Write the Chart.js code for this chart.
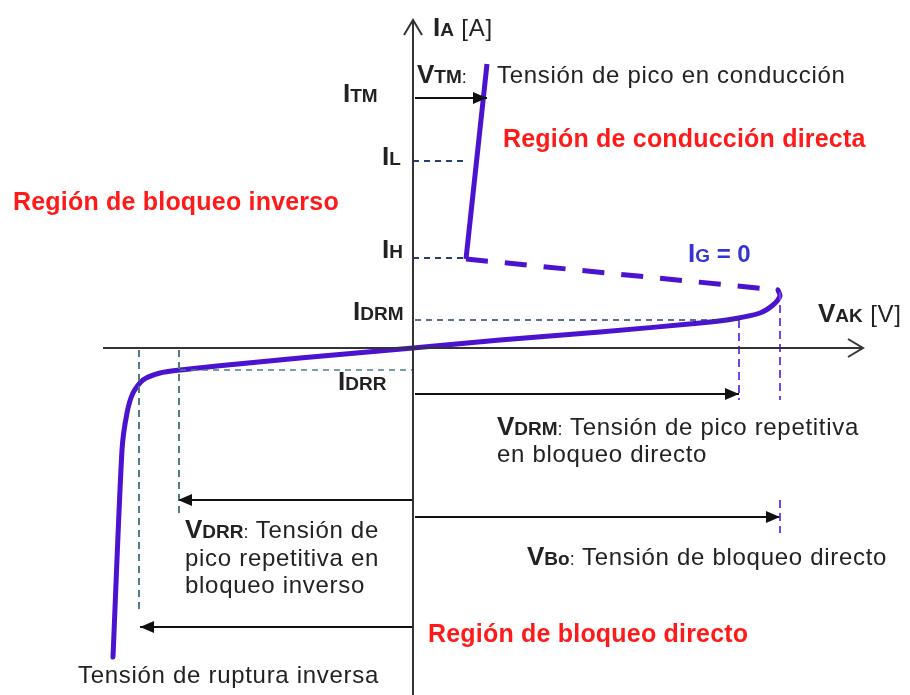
<!DOCTYPE html>
<html>
<head>
<meta charset="utf-8">
<script src="https://cdn.jsdelivr.net/npm/chart.js@4.4.1/dist/chart.umd.min.js"></script>
<style>
    html, body { margin: 0; padding: 0; background: #fff; }
    #wrap { width: 910px; height: 695px; position: relative; }
</style>
</head>
<body>
<div id="wrap"><canvas id="scrChart"></canvas></div>
<script>

// Curva característica del SCR (unidades relativas, origen en el cruce de ejes)
// Bloqueo inverso -> origen -> bloqueo directo hasta VBo
const curveV = [-300, -291, -286, -280, -270, -253, -233, -196, -113, 0, 87, 187, 287, 320, 347, 360, 367, 365];
const curveI = [-309, -102, -65, -45, -32, -25, -22, -18, -10, 0, 8, 16, 25, 29, 35, 43, 52, 58];

// Resistencia negativa (IG = 0), tramo a trazos
const negV = [53, 365];
const negI = [89, 58];

// Conducción directa
const onV = [53, 74];
const onI = [89, 284];

// Niveles de corriente y tensión marcados
const I_TM = 250, I_L = 187, I_H = 90, I_DRM = 28, I_DRR = -22;
const V_TM = 74, V_H = 52, V_DRM = 326, V_BO = 367, V_DRR = -234, V_BR = -274;

// Ejes
const axisXV = [-310, 450], axisXI = [0, 0];
const axisYV = [0, 0], axisYI = [-347, 328];

// Texto de las anotaciones: [estilo, texto]
const labels = [
    { v: 20, i: 312, c: "#222", runs: [["B", "I"], ["S", "A"], ["R", " [A]"]] },
    { v: 4, i: 265, c: "#222", runs: [["B", "V"], ["S", "TM"], ["C", ":"]] },
    { v: 84, i: 265, c: "#222", runs: [["R", "Tensión de pico en conducción"]] },
    { v: -70, i: 246, c: "#222", runs: [["B", "I"], ["S", "TM"]] },
    { v: 90, i: 201, c: "#ff1a1a", runs: [["H", "Región de conducción directa"]] },
    { v: -31, i: 183, c: "#222", runs: [["B", "I"], ["S", "L"]] },
    { v: -31, i: 90, c: "#222", runs: [["B", "I"], ["S", "H"]] },
    { v: -400, i: 138, c: "#ff1a1a", runs: [["H", "Región de bloqueo inverso"]] },
    { v: -60, i: 28, c: "#222", runs: [["B", "I"], ["S", "DRM"]] },
    { v: -75, i: -42, c: "#222", runs: [["B", "I"], ["S", "DRR"]] },
    { v: 275, i: 86, c: "#3434d4", runs: [["B", "I"], ["S", "G"], ["RB", " = 0"]] },
    { v: 405, i: 26, c: "#222", runs: [["B", "V"], ["S", "AK"], ["R", " [V]"]] },
    { v: 84, i: -87, c: "#222", runs: [["B", "V"], ["S", "DRM"], ["C", ":"], ["R", " Tensión de pico repetitiva"]] },
    { v: 84, i: -114, c: "#222", runs: [["R", "en bloqueo directo"]] },
    { v: -228, i: -190, c: "#222", runs: [["B", "V"], ["S", "DRR"], ["C", ":"], ["R", " Tensión de"]] },
    { v: -228, i: -218, c: "#222", runs: [["R", "pico repetitiva en"]] },
    { v: -228, i: -245, c: "#222", runs: [["R", "bloqueo inverso"]] },
    { v: 114, i: -217, c: "#222", runs: [["B", "V"], ["S", "Bo"], ["C", ":"], ["R", " Tensión de bloqueo directo"]] },
    { v: 15, i: -294, c: "#ff1a1a", runs: [["H", "Región de bloqueo directo"]] },
    { v: -335, i: -335, c: "#222", runs: [["R", "Tensión de ruptura inversa"]] }
];

const fonts = {
    B: { f: "bold 26px 'Liberation Sans'", ls: "0px" },
    S: { f: "bold 19px 'Liberation Sans'", ls: "0px" },
    C: { f: "18px 'Liberation Sans'", ls: "0px" },
    R: { f: "24px 'Liberation Sans'", ls: "0.7px" },
    RB: { f: "bold 24px 'Liberation Sans'", ls: "0px" },
    H: { f: "bold 25px 'Liberation Sans'", ls: "0.2px" }
};

const purple = "#4b12cf";
const guidePurple = "#7444e6";
const navy = "#24406e";
const teal = "#4c7d87";
const axisGrey = "#333";


function pts(xs, ys) {
    return xs.map((x, k) => ({ x: x, y: ys[k] }));
}

function line(xs, ys, color, width, dash, extra) {
    return Object.assign({
        data: pts(xs, ys),
        showLine: true,
        borderColor: color,
        borderWidth: width,
        borderDash: dash || [],
        pointRadius: 0,
        tension: 0,
        fill: false
    }, extra || {});
}

const datasets = [

    // ejes
    line(axisXV, axisXI, axisGrey, 2, null, { arrow: "open" }),
    line(axisYV, axisYI, axisGrey, 2, null, { arrow: "open" }),

    // guías a trazos
    line([0, V_H], [I_L, I_L], navy, 2, [6, 5]),
    line([0, V_H], [I_H, I_H], navy, 2, [6, 5]),
    line([2, V_DRM], [I_DRM, I_DRM], navy, 1.6, [6, 5]),
    line([V_DRR + 1, 0], [I_DRR, I_DRR], teal, 1.6, [6, 5]),
    line([V_DRR, V_DRR], [-2, -167], teal, 2, [7, 5]),
    line([V_BR, V_BR], [-2, -265], teal, 2, [7, 5]),
    line([V_DRM, V_DRM], [I_DRM, -52], guidePurple, 2, [8, 5]),
    line([V_BO, V_BO], [56, -52], guidePurple, 2, [8, 5]),
    line([V_BO, V_BO], [-152, -185], guidePurple, 2, [8, 5]),

    // flechas de tensión
    line([2, V_TM], [I_TM, I_TM], "#111", 2, null, { arrow: "filled" }),
    line([2, V_DRM], [-46, -46], "#111", 2, null, { arrow: "filled" }),
    line([0, V_DRR - 1], [-152, -152], "#111", 2, null, { arrow: "filled" }),
    line([2, V_BO], [-169, -169], "#111", 2, null, { arrow: "filled" }),
    line([0, V_BR + 1], [-279, -279], "#111", 2, null, { arrow: "filled" }),

    // curva del SCR
    line(curveV, curveI, purple, 5, null, { tension: 0.25, borderCapStyle: "round", borderJoinStyle: "round" }),
    line(negV, negI, purple, 5, [22, 17]),
    line(onV, onI, purple, 5, null, { borderJoinStyle: "round" })
];


// puntas de flecha al final de cada trazo marcado
const arrowPlugin = {
    id: "arrowHeads",
    afterDatasetsDraw(chart) {
        const ctx = chart.ctx;
        chart.data.datasets.forEach((ds, n) => {
            if (!ds.arrow) return;
            const p = chart.getDatasetMeta(n).data;
            const a = p[p.length - 1], b = p[p.length - 2];
            const ang = Math.atan2(a.y - b.y, a.x - b.x);
            ctx.save();
            ctx.translate(a.x, a.y);
            ctx.rotate(ang);
            ctx.strokeStyle = ds.borderColor;
            ctx.fillStyle = ds.borderColor;
            ctx.lineWidth = 2;
            ctx.beginPath();
            if (ds.arrow === "open") {
                ctx.moveTo(-15, -9);
                ctx.lineTo(0, 0);
                ctx.lineTo(-15, 9);
                ctx.stroke();
            } else {
                ctx.moveTo(0, 0);
                ctx.lineTo(-14, -6);
                ctx.lineTo(-14, 6);
                ctx.closePath();
                ctx.fill();
            }
            ctx.restore();
        });
    }
};

// textos con subíndices
const labelPlugin = {
    id: "richLabels",
    afterDraw(chart) {
        const ctx = chart.ctx;
        const sx = chart.scales.x, sy = chart.scales.y;
        ctx.save();
        ctx.textBaseline = "alphabetic";
        ctx.textAlign = "left";
        labels.forEach(l => {
            let x = sx.getPixelForValue(l.v);
            const y = sy.getPixelForValue(l.i);
            ctx.fillStyle = l.c;
            l.runs.forEach(r => {
                const st = fonts[r[0]];
                ctx.font = st.f;
                ctx.letterSpacing = st.ls;
                ctx.fillText(r[1], x, y);
                x += ctx.measureText(r[1]).width;
            });
        });
        ctx.restore();
    }
};


new Chart(document.getElementById("scrChart"), {
    type: "scatter",
    data: { datasets: datasets },
    options: {
        responsive: true,
        maintainAspectRatio: false,
        animation: false,
        events: [],
        layout: { padding: 0 },
        plugins: {
            legend: { display: false },
            tooltip: { enabled: false }
        },
        scales: {
            x: { type: "linear", min: -413, max: 497, display: false },
            y: { type: "linear", min: -347, max: 348, display: false }
        }
    },
    plugins: [arrowPlugin, labelPlugin]
});

</script>
</body>
</html>
